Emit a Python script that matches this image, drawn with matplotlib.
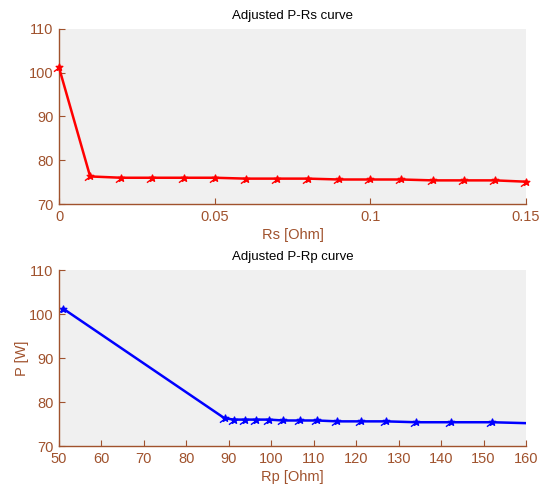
import numpy as np
import matplotlib
matplotlib.use("Agg")
import matplotlib.pyplot as plt
from matplotlib.path import Path

plt.rcParams['font.family'] = ['Liberation Sans', 'DejaVu Sans']

rs = [0, 0.01, 0.02, 0.03, 0.04, 0.05, 0.06, 0.07, 0.08, 0.09, 0.10, 0.11, 0.12, 0.13, 0.14, 0.15]
rp = [51, 89, 91.2, 93.8, 96.5, 99.4, 102.8, 106.8, 110.8, 115.5, 121.1, 127.0, 134.1, 142.3, 152.0, 163.5]
p = [101.2, 76.3, 76.0, 76.0, 76.0, 76.0, 75.8, 75.8, 75.8, 75.6, 75.6, 75.6, 75.4, 75.4, 75.4, 75.1]

rs_ticks = [0, 0.05, 0.1, 0.15]
rs_ticklabels = ['0', '0.05', '0.1', '0.15']
rp_ticks = [50, 60, 70, 80, 90, 100, 110, 120, 130, 140, 150, 160]
p_ticks = [70, 80, 90, 100, 110]

brown = '#a0522d'
bg = '#f0f0f0'

# star-with-tail marker
ang = np.pi / 2 + np.arange(10) * np.pi / 5
rad = np.where(np.arange(10) % 2 == 0, 1.0, 0.42)
sv = np.column_stack([rad * np.cos(ang), rad * np.sin(ang)])
verts = list(sv) + [sv[0], (0, 0), (-1.6, -1.2)]
codes = [Path.MOVETO] + [Path.LINETO] * 9 + [Path.CLOSEPOLY, Path.MOVETO, Path.LINETO]
marker = Path(verts, codes)

fig = plt.figure(figsize=(5.39, 4.86), dpi=100)
W, H = 539, 486
ax1 = fig.add_axes([59 / W, 1 - 204 / H, (526 - 59) / W, (204 - 29) / H])
ax2 = fig.add_axes([59 / W, 1 - 446 / H, (526 - 59) / W, (446 - 270) / H])

def style(ax):
    ax.set_facecolor(bg)
    for s in ['top', 'right']:
        ax.spines[s].set_visible(False)
    for s in ['left', 'bottom']:
        ax.spines[s].set_color(brown)
        ax.spines[s].set_linewidth(1.0)
    ax.tick_params(direction='in', colors=brown, labelsize=10.5, length=4, width=0.8, pad=4)
    ax.set_ylim(70, 110)
    ax.set_yticks(p_ticks)

ax1.plot(rs, p, color='red', lw=1.8, marker=marker, ms=8, mec='red', mfc='red', mew=1.0, clip_on=False, zorder=3)
style(ax1)
ax1.set_xlim(0, 0.15)
ax1.set_xticks(rs_ticks)
ax1.set_xticklabels(rs_ticklabels)
ax1.set_title('Adjusted P-Rs curve', fontsize=9.5, color='black', pad=7)
ax1.set_xlabel('Rs [Ohm]', color=brown, fontsize=10.5, labelpad=3)

ax2.plot(rp, p, color='blue', lw=1.8, marker=marker, ms=8, mec='blue', mfc='blue', mew=1.0)
style(ax2)
ax2.set_xlim(50, 160)
ax2.set_xticks(rp_ticks)
ax2.set_title('Adjusted P-Rp curve', fontsize=9.5, color='black', pad=7)
ax2.set_xlabel('Rp [Ohm]', color=brown, fontsize=10.5, labelpad=3)
ax2.set_ylabel('P [W]', color=brown, fontsize=10.5, labelpad=0)

fig.savefig('out.png', dpi=100, facecolor='white')
